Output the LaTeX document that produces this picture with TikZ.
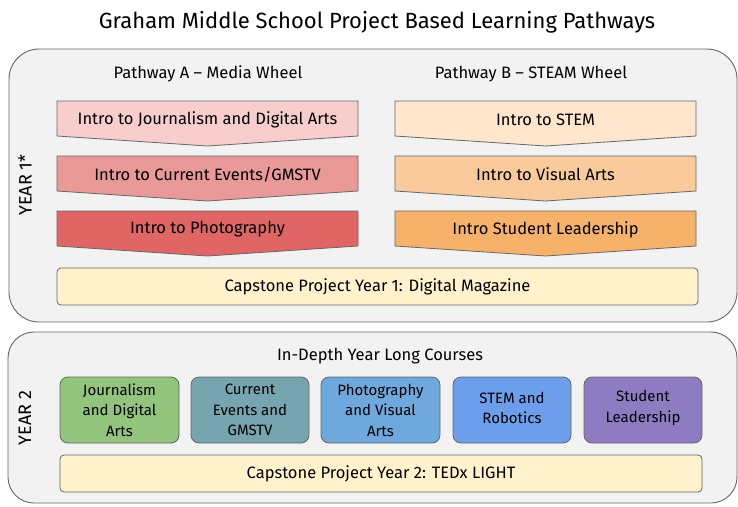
\documentclass[tikz,border=0pt]{standalone}
\usepackage{fontspec}
\setmainfont{Fira Sans}
\definecolor{panel}{RGB}{242,242,242}
\definecolor{edge}{RGB}{102,102,102}
\definecolor{mediaA}{HTML}{F8CECC}
\definecolor{mediaB}{HTML}{EA9999}
\definecolor{mediaC}{HTML}{E06666}
\definecolor{steamA}{HTML}{FFE6CC}
\definecolor{steamB}{HTML}{F9CB9C}
\definecolor{steamC}{HTML}{F6B26B}
\definecolor{capfill}{HTML}{FFF2CC}
\definecolor{crsA}{HTML}{93C47D}
\definecolor{crsB}{HTML}{76A5AF}
\definecolor{crsC}{HTML}{6FA8DC}
\definecolor{crsD}{HTML}{6D9EEB}
\definecolor{crsE}{HTML}{8E7CC3}
\tikzset{
  yearbox/.style={draw=edge,fill=panel,line width=0.9pt},
  stepbox/.style={draw=edge,line width=0.8pt},
  capbox/.style={draw=edge,fill=capfill,line width=0.8pt,rounded corners=4pt},
  course/.style={draw=edge,line width=0.8pt,rounded corners=8pt},
  lbl/.style={font=\fontsize{16.5}{19}\selectfont},
  crslbl/.style={font=\fontsize{15}{20.5}\selectfont,align=center},
}

\begin{document}
\begin{tikzpicture}[x=1pt,y=-1pt]
  \useasboundingbox (0,0) rectangle (738,506);
  \def\w{301};
  \def\h{35};
  \def\p{10};
  % year panels
  \draw[yearbox,rounded corners=30pt] (9,49) rectangle (737,322);
  \draw[yearbox,rounded corners=26pt] (8,332) rectangle (737,503);
  \node[font=\fontsize{22}{26}\selectfont] (title) at (377,22) {Graham Middle School Project Based Learning Pathways};
  \node[font=\fontsize{18}{20}\selectfont,rotate=90] (yearone) at (25,185) {YEAR 1*};
  \node[font=\fontsize{18}{20}\selectfont,rotate=90] (yeartwo) at (25,418) {YEAR 2};
  \node[lbl] (pathA) at (208,74) {Pathway A -- Media Wheel};
  \node[lbl] (pathB) at (531,74) {Pathway B -- STEAM Wheel};
  % pathway A
  \draw[stepbox,fill=mediaA] (57,101)--++(\w,0)--++(0,\h)--++(-\w/2,\p)--++(-\w/2,-\p)--cycle;
  \draw[stepbox,fill=mediaB] (57,156)--++(\w,0)--++(0,\h)--++(-\w/2,\p)--++(-\w/2,-\p)--cycle;
  \draw[stepbox,fill=mediaC] (57,211)--++(\w,0)--++(0,\h)--++(-\w/2,\p)--++(-\w/2,-\p)--cycle;
  \node[lbl] (journ) at (207.5,119.5) {Intro to Journalism and Digital Arts};
  \node[lbl] (events) at (207.5,174.5) {Intro to Current Events/GMSTV};
  \node[lbl] (photo) at (207.5,229.5) {Intro to Photography};
  % pathway B
  \draw[stepbox,fill=steamA] (395,101)--++(\w,0)--++(0,\h)--++(-\w/2,\p)--++(-\w/2,-\p)--cycle;
  \draw[stepbox,fill=steamB] (395,156)--++(\w,0)--++(0,\h)--++(-\w/2,\p)--++(-\w/2,-\p)--cycle;
  \draw[stepbox,fill=steamC] (395,211)--++(\w,0)--++(0,\h)--++(-\w/2,\p)--++(-\w/2,-\p)--cycle;
  \node[lbl] (stem) at (545.5,119.5) {Intro to STEM};
  \node[lbl] (visual) at (545.5,174.5) {Intro to Visual Arts};
  \node[lbl] (leader) at (545.5,229.5) {Intro Student Leadership};
  % capstone 1
  \draw[capbox] (57,268) rectangle (698,305);
  \node[lbl] (capone) at (377.5,287) {Capstone Project Year 1: Digital Magazine};
  % year 2
  \node[lbl] (indepth) at (380,356) {In-Depth Year Long Courses};
  \draw[course,fill=crsA] (60,377) rectangle (179,443);
  \draw[course,fill=crsB] (191,377) rectangle (309,443);
  \draw[course,fill=crsC] (321,377) rectangle (440,443);
  \draw[course,fill=crsD] (453,377) rectangle (571,443);
  \draw[course,fill=crsE] (584,377) rectangle (702,443);
  \node[crslbl] (cjourn) at (119.5,410) {Journalism\\and Digital\\Arts};
  \node[crslbl] (cevents) at (250,410) {Current\\Events and\\GMSTV};
  \node[crslbl] (cphoto) at (380.5,410) {Photography\\and Visual\\Arts};
  \node[crslbl] (cstem) at (512,408) {STEM and\\Robotics};
  \node[crslbl] (clead) at (643,408) {Student\\Leadership};
  \draw[capbox] (60,455) rectangle (702,492);
  \node[lbl] (captwo) at (381,474) {Capstone Project Year 2: TEDx LIGHT};
\end{tikzpicture}
\end{document}
